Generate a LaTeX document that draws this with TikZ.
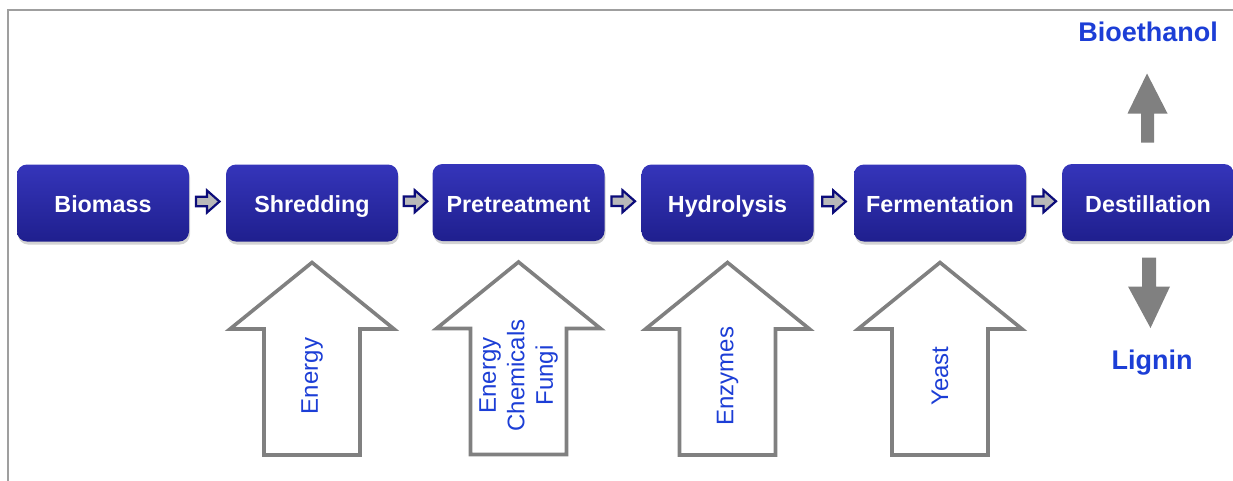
\documentclass[tikz,border=0pt]{standalone}
\usepackage{fontspec}
\setmainfont{Liberation Sans}
\usetikzlibrary{positioning,calc,shadows}
\definecolor{boxtop}{HTML}{3535BA}
\definecolor{boxbot}{HTML}{1F1F8E}
\definecolor{navy}{HTML}{0C0C7A}
\definecolor{inkblue}{HTML}{1C3ED6}
\tikzset{
  stage/.style={rounded corners=10pt, minimum width=172pt, minimum height=77pt,
    top color=boxtop, bottom color=boxbot, text=white,
    text height=19pt, text depth=0pt,
    font=\bfseries\fontsize{23.3}{26}\selectfont,
    drop shadow={shadow xshift=1pt, shadow yshift=-3pt, opacity=.35}},
  steparrow/.style={draw=navy, fill=gray!55, line width=2.2pt},
  feedarrow/.style={draw=gray, fill=white, line width=3.6pt},
  feedtext/.style={rotate=90, align=center, text=inkblue,
    font=\fontsize{24}{28.5}\selectfont},
  outarrow/.style={fill=gray, draw=none},
  product/.style={text=inkblue, font=\bfseries\fontsize{27}{30}\selectfont}
}
\begin{document}
\begin{tikzpicture}[x=1pt,y=-1pt]
\useasboundingbox (0,0) rectangle (1233,480);
\clip (0,0) rectangle (1233,480);
\draw[gray!75, line width=1.6pt] (8,500) -- (8,10) -- (1250,10);
% process line
\node[stage] (biomass) at (103,203) {Biomass};
\node[stage] (shred) at (312,203) {Shredding};
\node[stage] (pretreat) at (518.5,202.5) {Pretreatment};
\node[stage] (hydro) at (727.5,203) {Hydrolysis};
\node[stage] (ferment) at (940,203) {Fermentation};
\node[stage] (distill) at (1148,202.5) {Destillation};
\foreach \a/\b in {biomass/shred, shred/pretreat, pretreat/hydro, hydro/ferment, ferment/distill}{
  \coordinate (m) at ($(\a.east)!0.5!(\b.west)+(0,-1.5)$);
  \draw[steparrow, shift={(m)}] (-11.5,-4.8) -- (-0.5,-4.8) -- (-0.5,-11) -- (12,0)
    -- (-0.5,11) -- (-0.5,4.8) -- (-11.5,4.8) -- cycle;
}
% inputs
\foreach \s/\t in {shred/Energy, pretreat/{Energy\\Chemicals\\Fungi}, hydro/Enzymes, ferment/Yeast}{
  \draw[feedarrow, shift={(\s.center)}] (0,59.5) -- (82,126) -- (48,126) -- (48,252)
    -- (-48,252) -- (-48,126) -- (-82,126) -- cycle;
  \node[feedtext] (\s-in) at ($(\s.center)+(0,173)$) {\t};
}
% outputs
\draw[outarrow, shift={(distill.center)}] (-7,-60) -- (-7,-89) -- (-20.5,-89) -- (-1,-129)
  -- (19.5,-89) -- (6,-89) -- (6,-60) -- cycle;
\draw[outarrow, shift={(distill.center)}] (-6,55) -- (-6,84) -- (-20,84) -- (2.5,125.5)
  -- (22,84) -- (8,84) -- (8,55) -- cycle;
\node[product] (ethanol) at (1148,32) {Bioethanol};
\node[product] (lignin) at (1152,363) {Lignin};
\end{tikzpicture}
\end{document}
